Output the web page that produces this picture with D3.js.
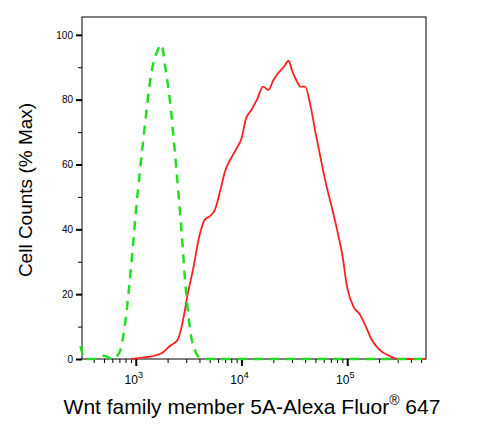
<!DOCTYPE html><html><head><script src="https://cdn.jsdelivr.net/npm/d3@7"></script>
<style>body{margin:0;background:#fff}text{font-family:"Liberation Sans",Arial,sans-serif}</style></head><body>
<svg id="c" width="491" height="425"></svg>
<script>
const greenX=[300,330,400,500,600,700,800,900,1000,1200,1400,1600,1750,1900,2100,2400,2700,3000,3300,3700,4200,556000];
const greenY=[4,0,0,1,0,2,12,28,45,70,88,95,97,90,80,60,40,20,8,2,0,0];
const redX=[900,1200,1500,1800,2100,2500,2800,3100,3500,4000,4500,5000,5600,6300,7000,8000,9000,10000,11000,12500,14000,16000,18000,20000,22000,25000,28000,30000,33000,36000,40000,45000,50000,56000,63000,70000,80000,90000,100000,115000,130000,150000,170000,200000,250000,300000,556000];
const redY=[0,0.5,1,2,4,6,12,20,28,38,43,44,46,52,58,62,65,68,74,77,80,84,83,86,88,90,92,89,86,84,84,78,70,62,54,48,40,32,22,16,14,10,6,3,1,0,0];
const yTicks=[0,20,40,60,80,100];
const xTicks=[1e3,1e4,1e5];
const svg=d3.select("#c");
const L=82,R=426,T=17,B=359;
const x=d3.scaleLog().domain([310,556000]).range([L,R]);
const y=d3.scaleLinear().domain([0,105.5]).range([B,T]);
svg.append("rect").attr("x",L).attr("y",T).attr("width",R-L).attr("height",B-T).attr("fill","none").attr("stroke","#000");
const yAx=svg.append("g").attr("transform",`translate(${L},0)`).call(d3.axisLeft(y).tickValues(yTicks).tickSize(6).tickFormat(d3.format("d")));
yAx.selectAll("line").attr("stroke-width",2);
svg.append("g").attr("transform",`translate(${L},0)`).call(d3.axisLeft(y).tickValues(d3.range(10,101,20)).tickSize(4).tickFormat(""));
yAx.selectAll("text").attr("font-size",10).attr("font-family","Liberation Sans");
svg.selectAll(".domain").remove();
const minor=[];for(let e=2;e<6;e++)for(let m=1;m<10;m++){const v=m*Math.pow(10,e);if(v>=310&&v<=556000&&m>1)minor.push(v);}
svg.append("g").attr("transform",`translate(0,${B})`).call(d3.axisBottom(x).tickValues(minor).tickSize(4).tickFormat("")).select(".domain").remove();
const xa=svg.append("g").attr("transform",`translate(0,${B})`).call(d3.axisBottom(x).tickValues(xTicks).tickSize(7).tickFormat(""));
xa.select(".domain").remove();xa.selectAll("line").attr("stroke-width",2);
xTicks.forEach(v=>{const t=svg.append("text").attr("x",x(v)-2).attr("y",B+25).attr("text-anchor","middle").attr("font-size",12).text("10");
t.append("tspan").attr("dy",-6).attr("font-size",9).text(Math.round(Math.log10(v)));});
const line=d3.line().x(d=>x(d[0])).y(d=>y(d[1])).curve(d3.curveMonotoneX);
svg.append("path").datum(redX.map((v,i)=>[v,redY[i]])).attr("d",line).attr("fill","none").attr("stroke","#ff2020").attr("stroke-width",1.8);
svg.append("path").datum(greenX.map((v,i)=>[v,greenY[i]])).attr("d",line).attr("fill","none").attr("stroke","#22dd22").attr("stroke-width",2.5).attr("stroke-dasharray","9,7");
svg.append("text").attr("transform","translate(32,190) rotate(-90)").attr("text-anchor","middle").attr("font-size",19).text("Cell Counts (% Max)");
const xt=svg.append("text").attr("x",252).attr("y",414).attr("text-anchor","middle").attr("font-size",21).text("Wnt family member 5A-Alexa Fluor");
xt.append("tspan").attr("dy",-9).attr("font-size",14).text("®");
xt.append("tspan").attr("dy",9).text(" 647");
</script></body></html>
